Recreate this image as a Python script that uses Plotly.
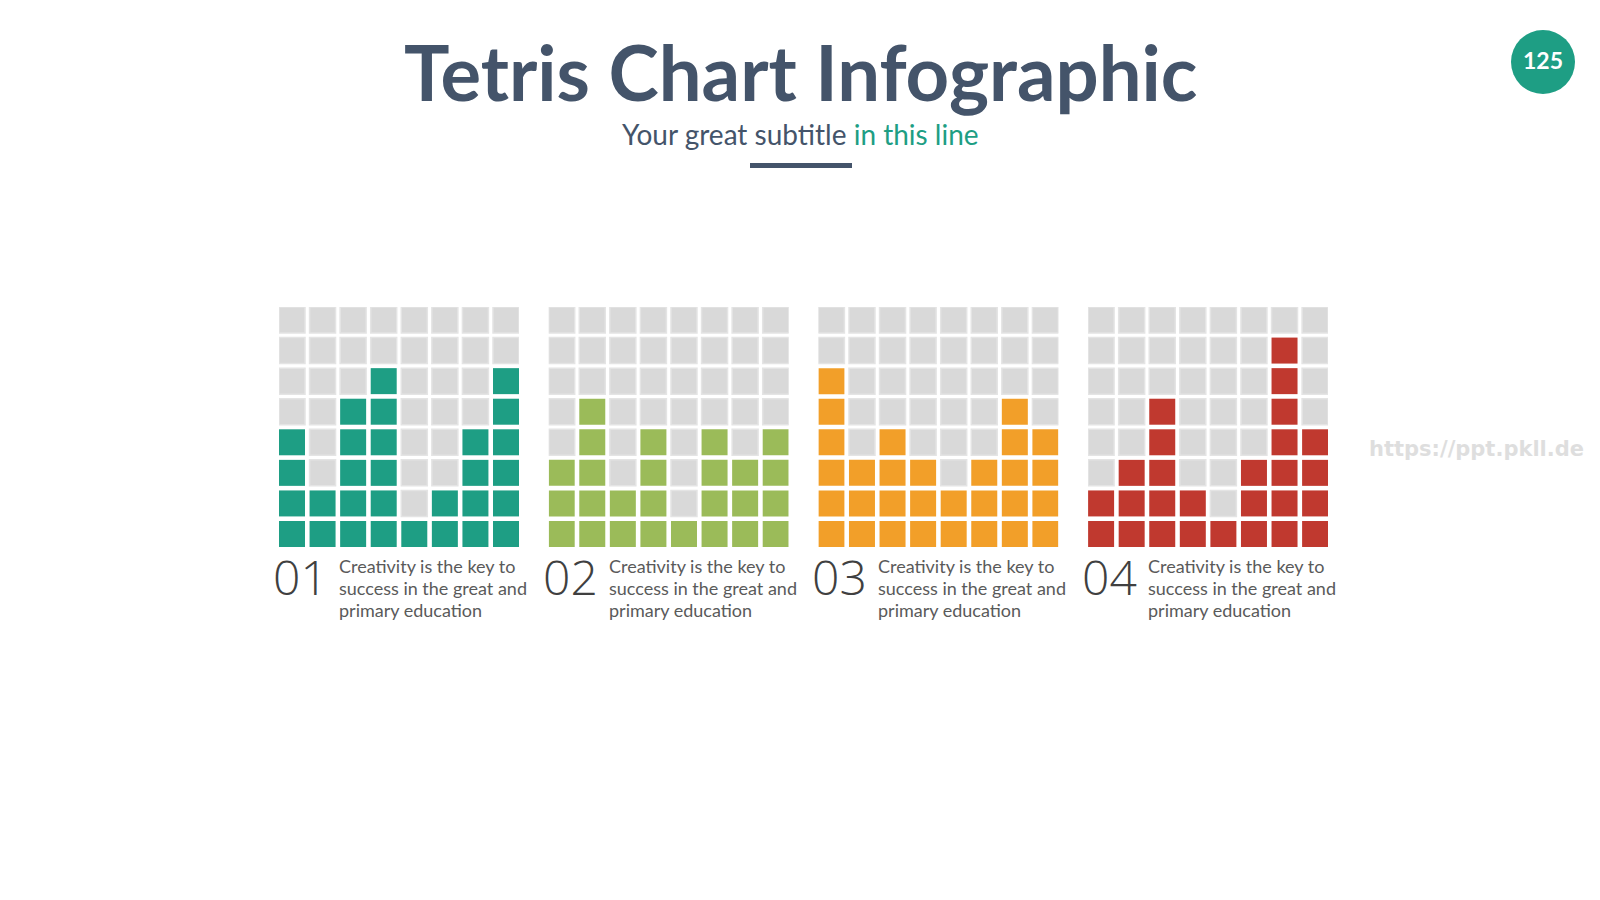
import plotly.graph_objects as go

# ---- data ----
panel_labels = ["01", "02", "03", "04"]
panel_text_lines = ["Creativity is the key to", "success in the great and", "primary education"]
heights_01 = [4, 2, 5, 6, 1, 2, 4, 6]
heights_02 = [3, 5, 2, 4, 1, 4, 3, 4]
heights_03 = [6, 3, 4, 3, 2, 3, 5, 4]
heights_04 = [2, 3, 5, 2, 1, 3, 7, 4]
panel_heights = [heights_01, heights_02, heights_03, heights_04]
grid_rows = 8
grid_cols = 8
panel_colors = ["#1E9E84", "#9BBB59", "#F29F29", "#C0392F"]
empty_color = "#D9D9D9"
title_text = "Tetris Chart Infographic"
subtitle_main = "Your great subtitle "
subtitle_accent = "in this line"
page_number = "125"
watermark = "https://ppt.pkll.de"

W, H = 1600, 900
fig = go.Figure()

panel_left0 = 279
panel_step = 269.7
grid_w = 240
grid_top = 307
grid_bottom = 547
cell = 26
pitch = (grid_w - cell) / (grid_cols - 1)
pad = (cell / 2) / pitch

def px_x(v):
    return v / W

def px_y(v):
    return 1 - v / H

for i, (hts, col) in enumerate(zip(panel_heights, panel_colors)):
    ax = "" if i == 0 else str(i + 1)
    ex, ey, fx, fy = [], [], [], []
    for c in range(grid_cols):
        for r in range(grid_rows):
            if r < hts[c]:
                fx.append(c); fy.append(r)
            else:
                ex.append(c); ey.append(r)
    fig.add_trace(go.Scatter(
        x=ex, y=ey, mode="markers", xaxis="x" + ax, yaxis="y" + ax,
        marker=dict(symbol="square", size=cell, color=empty_color,
                    line=dict(width=1.5, color="#E4E4E4")),
        hoverinfo="skip", showlegend=False))
    fig.add_trace(go.Scatter(
        x=fx, y=fy, mode="markers", xaxis="x" + ax, yaxis="y" + ax,
        marker=dict(symbol="square", size=cell, color=col, line=dict(width=0)),
        hoverinfo="skip", showlegend=False))
    left = panel_left0 + panel_step * i
    fig.update_layout(**{
        "xaxis" + ax: dict(domain=[px_x(left), px_x(left + grid_w)],
                           range=[-pad, grid_cols - 1 + pad], visible=False,
                           fixedrange=True, anchor="y" + ax),
        "yaxis" + ax: dict(domain=[px_y(grid_bottom), px_y(grid_top)],
                           range=[-pad, grid_rows - 1 + pad], visible=False,
                           fixedrange=True, anchor="x" + ax),
    })
    fig.add_annotation(x=px_x(left - 8), y=px_y(576), xref="paper", yref="paper",
                       text=panel_labels[i], showarrow=False, xanchor="left",
                       yanchor="middle",
                       font=dict(family="Open Sans", size=48, color="#404040", weight=300))
    for k, line in enumerate(panel_text_lines):
        fig.add_annotation(x=px_x(left + 58), y=px_y(566 + 22 * k), xref="paper", yref="paper",
                           text=line, showarrow=False, xanchor="left",
                           yanchor="middle", align="left",
                           font=dict(family="Lato", size=18, color="#5A5A5A"))

# title & subtitle
fig.add_annotation(x=0.5, y=px_y(72), xref="paper", yref="paper", text=title_text,
                   showarrow=False, xanchor="center", yanchor="middle",
                   font=dict(family="Lato", size=76, color="#44546A", weight=700))
fig.add_annotation(x=0.5, y=px_y(134), xref="paper", yref="paper",
                   text=subtitle_main + "<span style='color:#1E9E84'>" + subtitle_accent + "</span>",
                   showarrow=False, xanchor="center", yanchor="middle",
                   font=dict(family="Lato", size=28, color="#44546A"))
fig.add_shape(type="rect", xref="paper", yref="paper",
              x0=px_x(750), x1=px_x(852), y0=px_y(168), y1=px_y(163),
              fillcolor="#44546A", line=dict(width=0))

# page badge
fig.add_shape(type="circle", xref="paper", yref="paper",
              x0=px_x(1511), x1=px_x(1575), y0=px_y(94), y1=px_y(30),
              fillcolor="#1E9E84", line=dict(width=0))
fig.add_annotation(x=px_x(1543), y=px_y(60), xref="paper", yref="paper", text=page_number,
                   showarrow=False, xanchor="center", yanchor="middle",
                   font=dict(family="Lato", size=23, color="white", weight=700))

# watermark
fig.add_annotation(x=px_x(1476), y=px_y(449), xref="paper", yref="paper", text=watermark,
                   showarrow=False, xanchor="center", yanchor="middle",
                   font=dict(family="DejaVu Sans", size=21, color="#DEDEDE", weight=700))

fig.update_layout(width=W, height=H, margin=dict(l=0, r=0, t=0, b=0),
                  paper_bgcolor="white", plot_bgcolor="rgba(0,0,0,0)")
fig.write_html("out.html", config={"displayModeBar": False},
               post_script="document.body.style.margin='0';")
